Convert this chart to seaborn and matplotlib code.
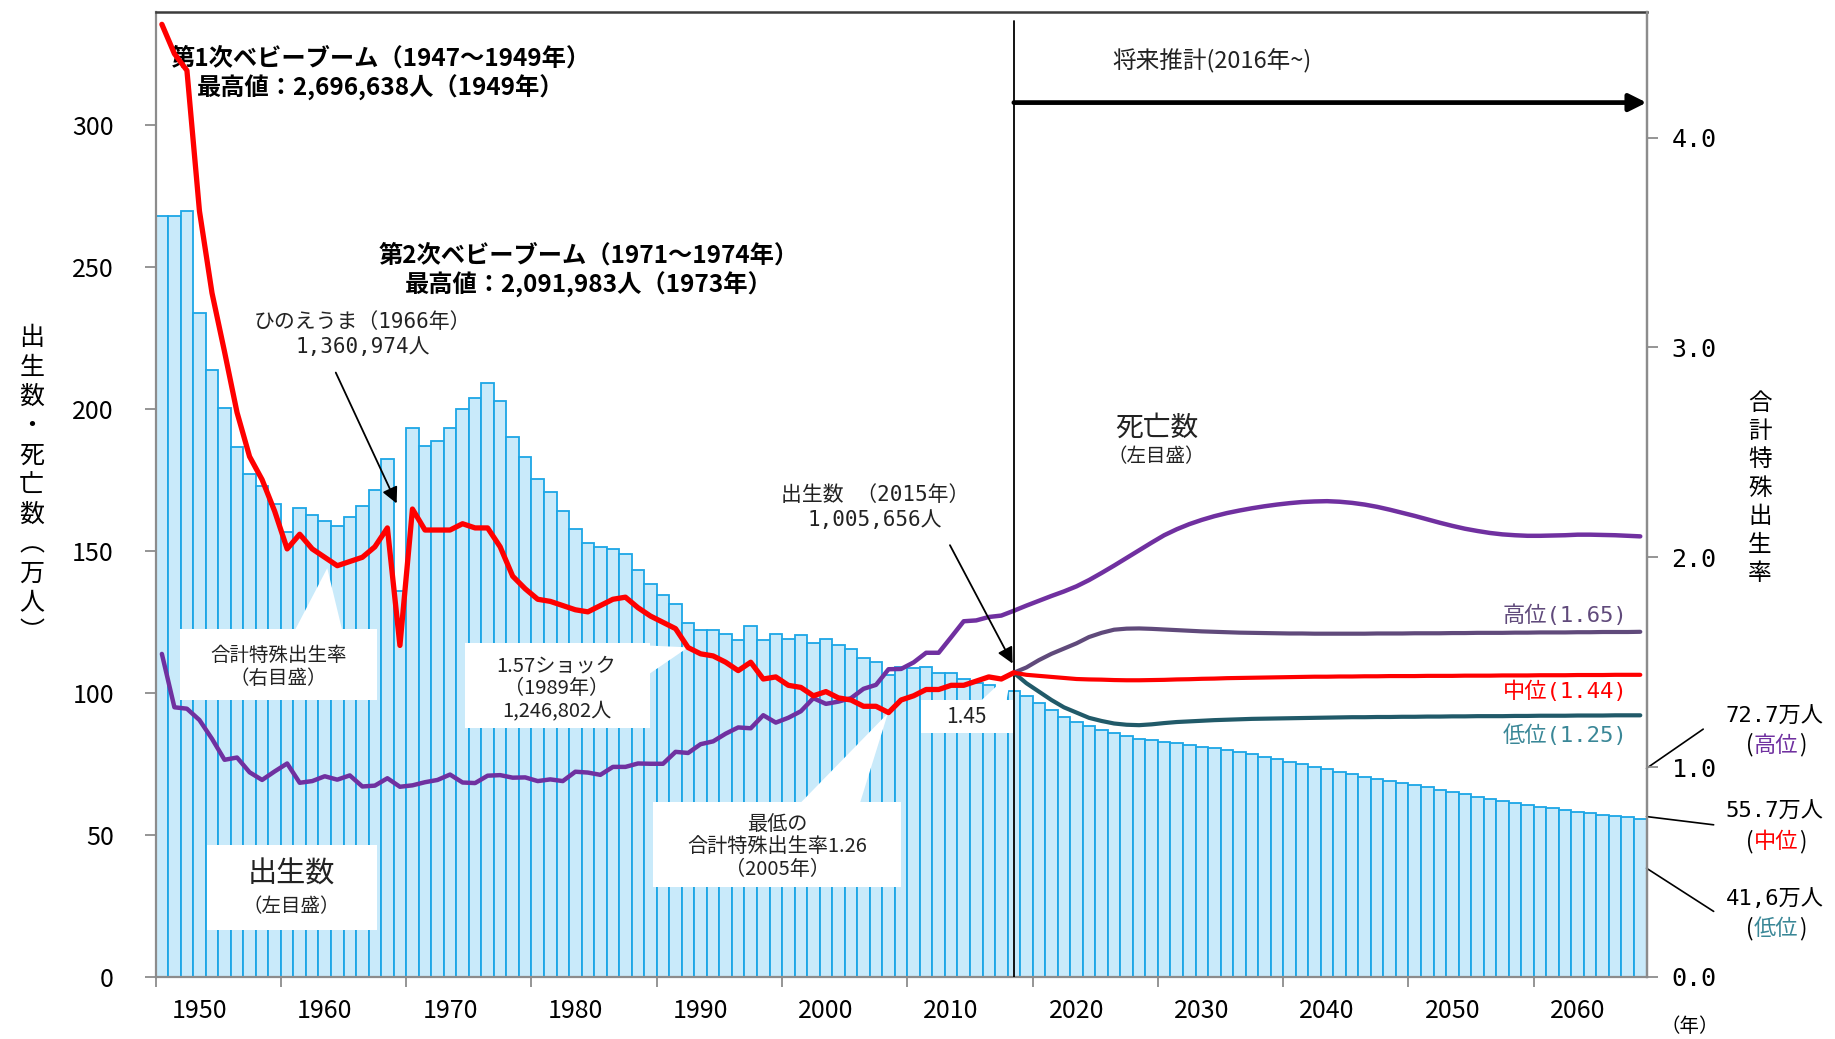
import numpy as np
import pandas as pd
import matplotlib
matplotlib.use('Agg')
import matplotlib.pyplot as plt
from matplotlib.patches import Rectangle, Polygon
import seaborn as sns

# ------------------------------------------------------------
# data : births / deaths in 万人, total fertility rate (TFR)
# ------------------------------------------------------------
years_actual = np.arange(1947, 2016)
years_proj = np.arange(2016, 2066)

births_actual = [267.9, 268.2, 269.7, 233.8, 213.8, 200.5, 186.8, 177.0, 173.1, 166.5,
                 156.7, 165.3, 162.6, 160.6, 158.9, 161.9, 166.0, 171.7, 182.4, 136.1,
                 193.5, 187.2, 188.9, 193.4, 200.1, 203.9, 209.2, 203.0, 190.1, 183.3,
                 175.5, 170.9, 164.3, 157.7, 152.9, 151.5, 150.9, 149.0, 143.2, 138.3,
                 134.7, 131.4, 124.7, 122.2, 122.3, 120.9, 118.8, 123.8, 118.7, 120.7,
                 119.2, 120.3, 117.8, 119.1, 117.1, 115.4, 112.4, 111.1, 106.3, 109.3,
                 109.0, 109.1, 107.0, 107.1, 105.1, 103.7, 103.0, 100.4, 100.6]
births_proj = [98.9, 96.4, 94.0, 91.7, 89.9, 88.4, 87.0, 85.8, 84.9, 84.0,
               83.5, 82.9, 82.3, 81.7, 81.1, 80.5, 79.9, 79.1, 78.4, 77.6,
               76.7, 75.8, 75.0, 74.1, 73.2, 72.3, 71.4, 70.6, 69.8, 68.9,
               68.2, 67.5, 66.8, 66.0, 65.2, 64.4, 63.5, 62.7, 61.9, 61.2,
               60.6, 60.0, 59.4, 58.8, 58.2, 57.6, 57.2, 56.8, 56.3, 55.7]

deaths_actual = [113.8, 95.0, 94.5, 90.5, 83.9, 76.5, 77.3, 72.1, 69.4, 72.4,
                 75.2, 68.4, 69.0, 70.7, 69.5, 71.0, 67.1, 67.4, 70.0, 67.0,
                 67.5, 68.6, 69.4, 71.3, 68.5, 68.3, 70.9, 71.1, 70.2, 70.3,
                 69.0, 69.6, 69.0, 72.3, 72.0, 71.2, 74.0, 74.0, 75.2, 75.1,
                 75.1, 79.3, 78.9, 82.0, 83.0, 85.7, 87.9, 87.6, 92.2, 89.6,
                 91.3, 93.6, 98.2, 96.2, 97.0, 98.2, 101.5, 102.9, 108.4, 108.5,
                 110.8, 114.2, 114.2, 119.7, 125.3, 125.6, 126.8, 127.3, 129.0]
deaths_proj = [130.8, 132.5, 134.2, 135.8, 137.6, 139.8, 142.3, 144.9, 147.6, 150.3,
               153.0, 155.6, 157.7, 159.5, 161.0, 162.3, 163.4, 164.3, 165.1, 165.8,
               166.4, 166.9, 167.3, 167.5, 167.6, 167.4, 167.0, 166.4, 165.6, 164.6,
               163.5, 162.4, 161.2, 160.0, 158.9, 157.9, 157.1, 156.4, 155.9, 155.6,
               155.4, 155.4, 155.5, 155.6, 155.8, 155.8, 155.7, 155.6, 155.4, 155.2]

tfr_actual = [4.54, 4.40, 4.32, 3.65, 3.26, 2.98, 2.69, 2.48, 2.37, 2.22,
              2.04, 2.11, 2.04, 2.00, 1.96, 1.98, 2.00, 2.05, 2.14, 1.58,
              2.23, 2.13, 2.13, 2.13, 2.16, 2.14, 2.14, 2.05, 1.91, 1.85,
              1.80, 1.79, 1.77, 1.75, 1.74, 1.77, 1.80, 1.81, 1.76, 1.72,
              1.69, 1.66, 1.57, 1.54, 1.53, 1.50, 1.46, 1.50, 1.42, 1.43,
              1.39, 1.38, 1.34, 1.36, 1.33, 1.32, 1.29, 1.29, 1.26, 1.32,
              1.34, 1.37, 1.37, 1.39, 1.39, 1.41, 1.43, 1.42, 1.45]
tfr_high = [1.475, 1.51, 1.54, 1.565, 1.59, 1.62, 1.64, 1.655, 1.66, 1.661,
            1.659, 1.656, 1.653, 1.650, 1.647, 1.645, 1.643, 1.641, 1.640, 1.639,
            1.638, 1.637, 1.637, 1.636, 1.636, 1.636, 1.636, 1.636, 1.637, 1.637,
            1.637, 1.638, 1.638, 1.638, 1.639, 1.639, 1.640, 1.640, 1.640, 1.641,
            1.641, 1.642, 1.642, 1.642, 1.643, 1.643, 1.644, 1.644, 1.644, 1.645]
tfr_mid = [1.440, 1.435, 1.430, 1.425, 1.420, 1.418, 1.417, 1.415, 1.414, 1.414,
           1.415, 1.416, 1.418, 1.419, 1.421, 1.422, 1.424, 1.425, 1.426, 1.427,
           1.428, 1.429, 1.430, 1.431, 1.431, 1.432, 1.432, 1.433, 1.433, 1.434,
           1.434, 1.434, 1.435, 1.435, 1.435, 1.436, 1.436, 1.436, 1.437, 1.437,
           1.437, 1.438, 1.438, 1.438, 1.439, 1.439, 1.439, 1.440, 1.440, 1.440]
tfr_low = [1.400, 1.360, 1.320, 1.285, 1.260, 1.235, 1.220, 1.208, 1.202, 1.200,
           1.204, 1.210, 1.215, 1.218, 1.221, 1.224, 1.226, 1.228, 1.230, 1.231,
           1.232, 1.233, 1.234, 1.235, 1.236, 1.237, 1.238, 1.238, 1.239, 1.239,
           1.240, 1.240, 1.241, 1.241, 1.242, 1.242, 1.243, 1.243, 1.243, 1.244,
           1.244, 1.245, 1.245, 1.245, 1.246, 1.246, 1.246, 1.247, 1.247, 1.247]

left_ticks = [0, 50, 100, 150, 200, 250, 300]
right_ticks = [0.0, 1.0, 2.0, 3.0, 4.0]
decade_labels = list(range(1950, 2061, 10))

# colours
BAR_FILL = '#c9eafa'
BAR_EDGE = '#1ca6e6'
RED = '#ff0000'
PURPLE = '#7030a0'
HIGH = '#604a7b'
LOW = '#215a69'
LOW_TXT = '#3a8797'
AXIS_GRAY = '#8c8c8c'

# ------------------------------------------------------------
# figure
# ------------------------------------------------------------
sns.set_theme(style="white")
plt.rcParams['font.family'] = ['Noto Sans CJK JP', 'DejaVu Sans']
MONO = ['DejaVu Sans Mono', 'Noto Sans CJK JP']

fig = plt.figure(figsize=(18.35, 10.39), dpi=100)
ax = fig.add_axes([0.0848, 0.0597, 0.8125, 0.9290])
ax2 = ax.twinx()

births = pd.DataFrame({
    "year": np.concatenate([years_actual, years_proj]),
    "births": births_actual + births_proj,
})
sns.barplot(data=births, x="year", y="births", native_scale=True, width=1.0,
            color=BAR_FILL, saturation=1, edgecolor=BAR_EDGE, linewidth=1.3,
            errorbar=None, ax=ax, zorder=1)

# deaths (left axis)
sns.lineplot(x=years_actual, y=deaths_actual, color=PURPLE, lw=3.2, ax=ax, zorder=4)
sns.lineplot(x=np.r_[2015, years_proj], y=[deaths_actual[-1]] + deaths_proj,
             color=PURPLE, lw=3.2, ax=ax, zorder=4)

# TFR (right axis)
sns.lineplot(x=np.r_[2015, years_proj], y=[tfr_actual[-1]] + tfr_high,
             color=HIGH, lw=3.0, ax=ax2)
sns.lineplot(x=np.r_[2015, years_proj], y=[tfr_actual[-1]] + tfr_low,
             color=LOW, lw=3.0, ax=ax2)
sns.lineplot(x=np.r_[2015, years_proj], y=[tfr_actual[-1]] + tfr_mid,
             color=RED, lw=3.0, ax=ax2)
sns.lineplot(x=years_actual, y=tfr_actual, color=RED, lw=3.8, ax=ax2)

# ------------------------------------------------------------
# axes
# ------------------------------------------------------------
ax.set_xlim(1946.5, 2065.5)
ax.set_ylim(0, 340)
ax2.set_ylim(0, 4.6)
ax.set_xlabel("")
ax.set_ylabel("")
ax2.set_ylabel("")

ax.set_xticks(np.arange(1946.5, 2060, 10))
ax.set_xticklabels([])
ax.set_xticks(decade_labels, minor=True)
ax.set_xticklabels([str(y) for y in decade_labels], minor=True)
ax.tick_params(axis='x', which='major', bottom=True, length=7, width=1.3,
               color=AXIS_GRAY, direction='out')
ax.tick_params(axis='x', which='minor', bottom=True, length=0, pad=15,
               labelsize=18, labelcolor='black')

ax.set_yticks(left_ticks)
ax.set_yticklabels([str(v) for v in left_ticks])
ax.tick_params(axis='y', left=True, length=8, width=1.3, color=AXIS_GRAY,
               direction='out', pad=22, labelsize=18, labelcolor='black')

ax2.set_yticks(right_ticks)
ax2.set_yticklabels([f"{v:.1f}" for v in right_ticks])
ax2.tick_params(axis='y', right=True, length=8, width=1.3, color=AXIS_GRAY,
                direction='out', pad=10, labelsize=18, labelcolor='black')
for lbl in ax2.get_yticklabels():
    lbl.set_fontfamily(MONO)

for side in ['left', 'right', 'bottom']:
    ax.spines[side].set_color(AXIS_GRAY)
    ax.spines[side].set_linewidth(1.6)
ax.spines['top'].set_color('#3c3c3c')
ax.spines['top'].set_linewidth(1.8)
for side in ['left', 'top', 'bottom']:
    ax2.spines[side].set_visible(False)
ax2.spines['right'].set_color(AXIS_GRAY)
ax2.spines['right'].set_linewidth(1.6)
ax.grid(False)
ax2.grid(False)

# ------------------------------------------------------------
# callout boxes (white boxes with pointer wedges)
# ------------------------------------------------------------
def callout(x0, x1, y0, y1, wedge=None):
    ax.add_patch(Rectangle((x0, y0), x1 - x0, y1 - y0, fc='white', ec='none', zorder=3))
    if wedge is not None:
        ax.add_patch(Polygon(wedge, closed=True, fc='white', ec='none', zorder=3))

callout(1948.46, 1964.15, 97.6, 122.7,
        [(1957.6, 122.0), (1961.4, 122.0), (1960.2, 144.0)])
callout(1971.2, 1985.95, 87.6, 117.7,
        [(1984.6, 117.0), (1985.95, 106.9), (1989.0, 116.1)])
callout(1986.2, 2006.0, 31.8, 61.8,
        [(1997.9, 61.0), (2002.7, 61.0), (2004.95, 92.9)])
callout(2007.6, 2014.9, 85.8, 97.5,
        [(2012.3, 97.0), (2014.4, 97.0), (2014.8, 107.3)])
callout(1950.6, 1964.15, 16.5, 46.5)

TXT = '#222222'
ax.text(1956.3, 109.1, "合計特殊出生率\n（右目盛）", ha='center', va='center',
        fontsize=14, color=TXT, linespacing=1.15, zorder=6)
ax.text(1978.5, 101.6, "1.57ショック\n（1989年）\n1,246,802人", ha='center', va='center',
        fontsize=14.5, color=TXT, linespacing=1.12, zorder=6)
ax.text(1996.1, 45.9, "最低の\n合計特殊出生率1.26\n（2005年）", ha='center', va='center',
        fontsize=14.5, color=TXT, linespacing=1.1, zorder=6)
ax.text(2011.2, 91.4, "1.45", ha='center', va='center', fontsize=15, color=TXT, zorder=6)
ax.text(1957.3, 36.0, "出生数", ha='center', va='center', fontsize=21, color=TXT, zorder=6)
ax.text(1957.3, 24.7, "（左目盛）", ha='center', va='center', fontsize=14, color=TXT, zorder=6)

ax.text(2026.4, 193.5, "死亡数", ha='center', va='center', fontsize=20, color=TXT, zorder=6)
ax.text(2026.4, 183.2, "（左目盛）", ha='center', va='center', fontsize=14, color=TXT, zorder=6)

# baby boom notes
ax.text(1964.5, 318.2, "第1次ベビーブーム（1947～1949年）\n最高値：2,696,638人（1949年）",
        ha='center', va='center', fontsize=17.5, fontweight='bold', color='black',
        linespacing=1.2, zorder=6)
ax.text(1981.1, 248.7, "第2次ベビーブーム（1971～1974年）\n最高値：2,091,983人（1973年）",
        ha='center', va='center', fontsize=17.5, fontweight='bold', color='black',
        linespacing=1.2, zorder=6)

# hinoeuma
ax.text(1963.0, 226.3, "ひのえうま（1966年）\n1,360,974人", ha='center', va='center',
        fontsize=15, fontfamily=MONO, color=TXT, linespacing=1.35, zorder=6)
ax.annotate("", xy=(1965.74, 166.8), xytext=(1960.88, 212.9),
            arrowprops=dict(arrowstyle='-|>', color='black', lw=1.3,
                            mutation_scale=24, shrinkA=0, shrinkB=0), zorder=6)

# births 2015
ax.text(2003.9, 165.4, "出生数 （2015年）\n1,005,656人", ha='center', va='center',
        fontsize=15, fontfamily=MONO, color=TXT, linespacing=1.35, zorder=6)
ax.annotate("", xy=(2014.9, 110.4), xytext=(2009.9, 152.1),
            arrowprops=dict(arrowstyle='-|>', color='black', lw=1.3,
                            mutation_scale=24, shrinkA=0, shrinkB=0), zorder=6)

# projection marker
ax.axvline(2015, ymin=0, ymax=0.99, color='black', lw=1.3, zorder=5)
ax.annotate("", xy=(2065.5, 308.0), xytext=(2015, 308.0),
            arrowprops=dict(arrowstyle='-|>', color='black', lw=3.4,
                            mutation_scale=26, shrinkA=0, shrinkB=0), zorder=6,
            annotation_clip=False)
ax.text(2030.8, 322.7, "将来推計(2016年~)", ha='center', va='center',
        fontsize=17, color=TXT, zorder=6)

# scenario labels
ax.text(2064.0, 127.6, "高位(1.65)", ha='right', va='center', fontsize=16,
        fontfamily=MONO, color=HIGH, zorder=6)
ax.text(2064.0, 100.8, "中位(1.44)", ha='right', va='center', fontsize=16,
        fontfamily=MONO, color=RED, zorder=6)
ax.text(2064.0, 85.2, "低位(1.25)", ha='right', va='center', fontsize=16,
        fontfamily=MONO, color=LOW_TXT, zorder=6)

# right side births by scenario (2065)
yax = ax.get_yaxis_transform()
leader = [((1.0, 73.5), (1.038, 87.3)),
          ((1.0, 56.5), (1.045, 53.6)),
          ((1.0, 38.3), (1.045, 23.1))]
for (x0, y0), (x1, y1) in leader:
    ax.plot([x0, x1], [y0, y1], color='black', lw=1.2, transform=yax, clip_on=False)

side_notes = [("72.7万人", 91.7, "高位", PURPLE, 81.7),
              ("55.7万人", 58.3, "中位", RED, 47.7),
              ("41,6万人", 27.8, "低位", LOW_TXT, 17.2)]
half_name = 0.0152
for value, yv, name, col, yn in side_notes:
    ax.text(1.086, yv, value, transform=yax, ha='center', va='center', fontsize=16,
            fontfamily=MONO, color='black', clip_on=False)
    ax.text(1.087 - half_name, yn, "(", transform=yax, ha='right', va='center',
            fontsize=16, color='black', clip_on=False)
    ax.text(1.087, yn, name, transform=yax, ha='center', va='center', fontsize=16,
            color=col, clip_on=False)
    ax.text(1.087 + half_name, yn, ")", transform=yax, ha='left', va='center',
            fontsize=16, color='black', clip_on=False)

# axis titles (vertical, upright characters)
fig.text(0.0173, 0.533, "\n".join("出生数・死亡数") + "\n︵\n万\n人\n︶",
         ha='center', va='center', fontsize=18, linespacing=1.17, color='black')
fig.text(0.9591, 0.530, "\n".join("合計特殊出生率"), ha='center', va='center',
         fontsize=17, linespacing=1.3, color='black')
fig.text(0.921, 0.012, "（年）", ha='center', va='center', fontsize=14, color='black')

fig.savefig("out.png", dpi=100)
